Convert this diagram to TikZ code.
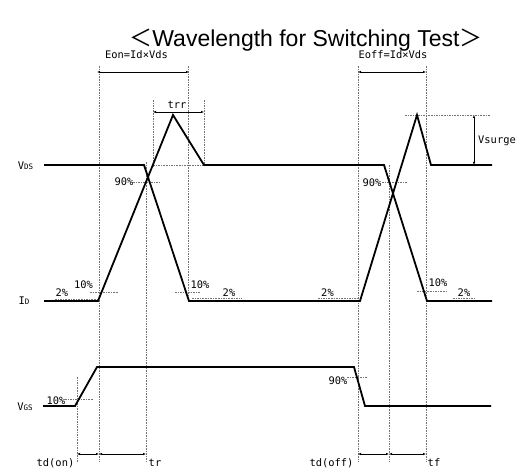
\documentclass[tikz,border=0pt]{standalone}
\usepackage{fontspec}
\setmainfont{Liberation Sans}
\newfontfamily\cjk{Noto Sans CJK JP}
\newfontfamily\lbl{DejaVu Sans Mono}
\usetikzlibrary{arrows.meta}
\begin{document}
\begin{tikzpicture}[x=1pt,y=-1pt,
  wave/.style={line width=1.8pt,line join=miter},
  guide/.style={draw=black!55,line width=0.45pt,dash pattern=on 1.6pt off 1pt},
  dim/.style={line width=0.7pt,{Latex[length=3pt,width=2.4pt]}-{Latex[length=3pt,width=2.4pt]}},
  lab/.style={inner sep=0pt,anchor=base,font=\lbl\fontsize{10.4}{11}\selectfont},
  sig/.style={inner sep=0pt,anchor=base,font=\lbl\fontsize{10.5}{11}\selectfont}]
\useasboundingbox (0,0) rectangle (525,473);
% title
\node[inner sep=0pt,anchor=base,font=\fontsize{23}{26}\selectfont] (title) at (306,47) {{\cjk ＜}Wavelength for Switching Test{\cjk ＞}};
% vertical guide lines
\draw[guide] (99,66) -- (99,462);
\draw[guide] (188,66) -- (188,302);
\draw[guide] (153,100) -- (153,167);
\draw[guide] (204,100) -- (204,166);
\draw[guide] (146,162) -- (146,462);
\draw[guide] (77,377) -- (77,462);
\draw[guide] (358,66) -- (358,462);
\draw[guide] (389,165) -- (389,462);
\draw[guide] (426,66) -- (426,462);
% horizontal guide lines
\draw[guide] (153,165) -- (204,165);
\draw[guide] (133,182) -- (160,182);
\draw[guide] (90,292) -- (118,292);
\draw[guide] (55,299) -- (97,299);
\draw[guide] (175,292) -- (200,292);
\draw[guide] (192,298) -- (242,298);
\draw[guide] (382,182) -- (408,182);
\draw[guide] (318,298) -- (360,298);
\draw[guide] (417,291) -- (447,291);
\draw[guide] (453,298) -- (475,298);
\draw[guide] (405,115) -- (490,115);
\draw[guide] (65,399) -- (93,399);
\draw[guide] (347,377) -- (367,377);
% waveforms
\draw[wave] (44,301) -- (98,301) -- (173,115) -- (204,165) -- (384,165) -- (427,301) -- (492,301);
\draw[wave] (44,165) -- (144,165) -- (189,301) -- (360,301) -- (417,115) -- (431,165) -- (492,165);
\draw[wave] (43,406) -- (75,406) -- (97,367) -- (354,367) -- (365,406) -- (491,406);
% dimension coordinates
\coordinate (eonL) at (97,72); \coordinate (eonR) at (189,72);
\coordinate (eoffL) at (358,72); \coordinate (eoffR) at (426,72);
\coordinate (trrL) at (153,112); \coordinate (trrR) at (204,112);
\coordinate (vsT) at (474,115); \coordinate (vsB) at (474,165);
\coordinate (b1) at (77,454); \coordinate (b2) at (99,454); \coordinate (b3) at (146,454);
\coordinate (c1) at (358,454); \coordinate (c2) at (389,454); \coordinate (c3) at (426,454);
\draw[dim] (eonL) -- (eonR);
\draw[dim] (eoffL) -- (eoffR);
\draw[dim] (trrL) -- (trrR);
\draw[dim] (vsT) -- (vsB);
\draw[dim] (b1) -- (b2); \draw[dim] (b2) -- (b3);
\draw[dim] (c1) -- (c2); \draw[dim] (c2) -- (c3);
% labels
\node[lab] (eon) at (136.5,59) {Eon=Id×Vds};
\node[lab] (eoff) at (393,59) {Eoff=Id×Vds};
\node[lab] (trr) at (177,109) {trr};
\node[lab] (vsurge) at (497,144) {Vsurge};
\node[sig] (vds) at (25.5,170) {V{\fontsize{7.5}{8}\selectfont DS}};
\node[sig] (id) at (24,305) {I{\fontsize{7.5}{8}\selectfont D}};
\node[sig] (vgs) at (25,410) {V{\fontsize{7.5}{8}\selectfont GS}};
\node[lab] (p1) at (62,297) {2\%};
\node[lab] (p2) at (83.5,288) {10\%};
\node[lab] (p3) at (124,186) {90\%};
\node[lab] (p4) at (200,288) {10\%};
\node[lab] (p5) at (229,297) {2\%};
\node[lab] (p6) at (372,187) {90\%};
\node[lab] (p7) at (327.5,297) {2\%};
\node[lab] (p8) at (438,287) {10\%};
\node[lab] (p9) at (464,297) {2\%};
\node[lab] (p10) at (56,404) {10\%};
\node[lab] (p11) at (338,384) {90\%};
\node[lab] (tdon) at (55.5,466) {td(on)};
\node[lab] (tr) at (155,466) {tr};
\node[lab] (tdoff) at (331.5,466) {td(off)};
\node[lab] (tf) at (434,466) {tf};
\end{tikzpicture}
\end{document}
